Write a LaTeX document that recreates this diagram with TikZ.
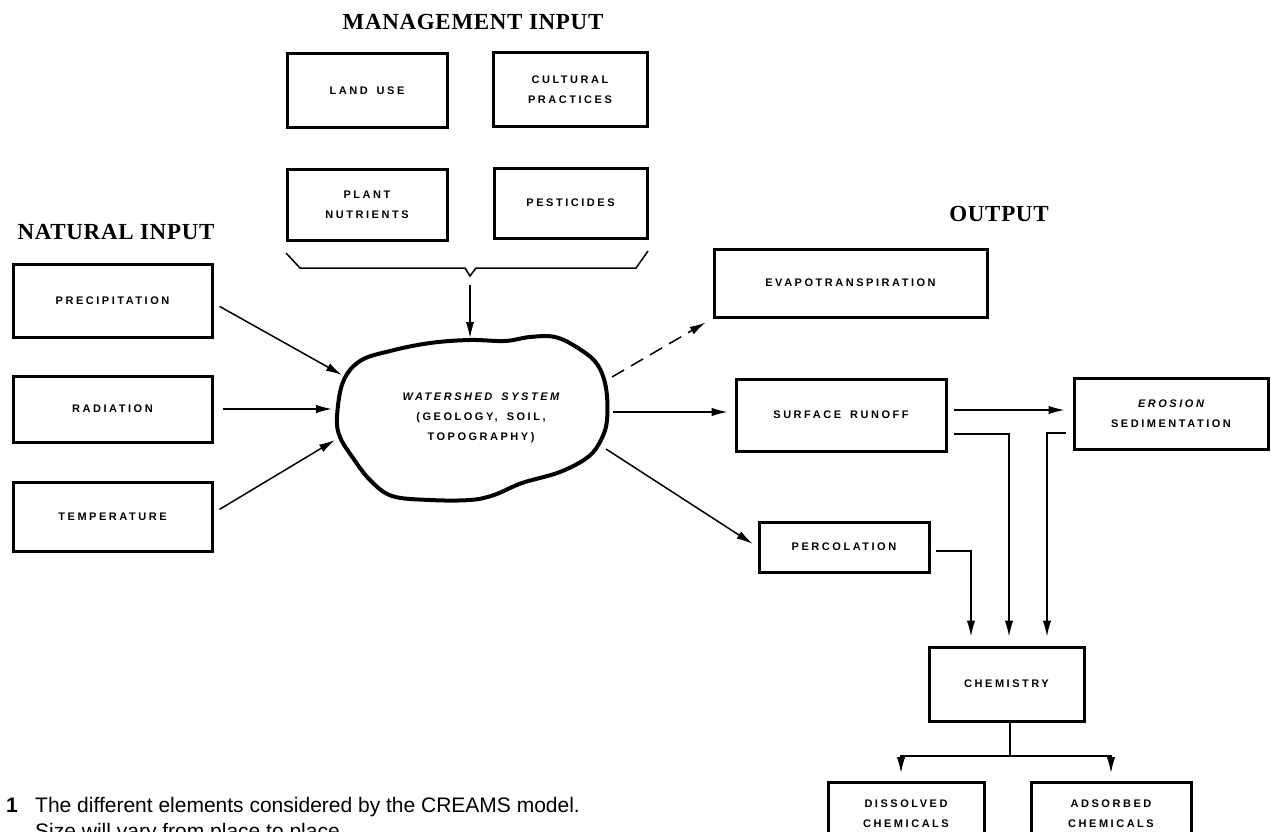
\documentclass[tikz,border=0pt]{standalone}
\usepackage{fontspec}
\usetikzlibrary{arrows.meta,calc}
\newfontfamily\boxfont[LetterSpace=23]{Liberation Sans}
\newfontfamily\titlefont[LetterSpace=3]{Liberation Serif}
\newfontfamily\capfont{Liberation Sans}
\newcommand{\wsp}{\hspace{9pt}}
\begin{document}
\begin{tikzpicture}[x=1pt,y=-1pt,
  box/.style={draw, line width=3pt, inner sep=0pt, align=center,
    font=\boxfont\bfseries\fontsize{11}{20}\selectfont},
  lbl/.style={inner sep=0pt, align=center, font=\boxfont\bfseries\fontsize{11}{20}\selectfont},
  ttl/.style={inner sep=0pt, font=\titlefont\bfseries\fontsize{23}{26}\selectfont},
  conn/.style={line width=1.5pt},
  arr/.style={conn, -{Latex[length=16pt,width=8.5pt]}},
  capt/.style={inner sep=0pt, anchor=base west, font=\capfont\fontsize{21}{26}\selectfont}]
\useasboundingbox (0,0) rectangle (1271,832);
\clip (0,0) rectangle (1271,832);
\fill[white] (0,0) rectangle (1271,832);

% titles
\node[ttl] (mgmt) at (473,22) {MANAGEMENT INPUT};
\node[ttl] (nat) at (116,232) {NATURAL INPUT};
\node[ttl] (out) at (999,214) {OUTPUT};

% management input
\node[box, minimum width=160pt, minimum height=74pt] (land) at (367,91) {LAND\wsp USE};
\node[box, minimum width=154pt, minimum height=74pt] (cult) at (570,90) {CULTURAL\\PRACTICES};
\node[box, minimum width=160pt, minimum height=71pt] (plant) at (367,204.5) {PLANT\\NUTRIENTS};
\node[box, minimum width=153pt, minimum height=70pt] (pest) at (570.5,203) {PESTICIDES};

% brace
\coordinate (bl) at (286,253);
\coordinate (br) at (648,251);
\coordinate (btip) at (470,276);
\draw[conn, line join=miter] (bl) -- (300,268) -- (465,268) -- (btip) -- (476,268) -- (636,268) -- (br);

% natural input
\node[box, minimum width=199pt, minimum height=73pt] (precip) at (112.5,300.5) {PRECIPITATION};
\node[box, minimum width=199pt, minimum height=66pt] (rad) at (112.5,409) {RADIATION};
\node[box, minimum width=199pt, minimum height=69pt] (temp) at (112.5,516.5) {TEMPERATURE};

% watershed blob
\draw[line width=4pt, line join=round]
  plot[smooth cycle, tension=0.6] coordinates {
   (337,417) (343,382) (360,361) (390,351) (430,343) (470,340) (505,341)
   (530,337) (555,337) (578,348) (597,364) (606,388) (607,420) (601,440)
   (588,457) (560,472) (522,483) (494,495) (470,500) (430,500) (392,496)
   (370,480) (353,458) (340,437)};
\node[lbl] (ws) at (481,418) {\itshape WATERSHED\wsp SYSTEM\\(GEOLOGY,\wsp SOIL,\\TOPOGRAPHY)};
\coordinate (bpre) at (342,375);
\coordinate (brad) at (332,409);
\coordinate (btem) at (335,440);
\coordinate (btop) at (470,338);
\coordinate (bdash) at (612,377);
\coordinate (bsr) at (613,412);
\coordinate (bperc) at (606,449);

% output boxes
\node[box, minimum width=273pt, minimum height=68pt] (evapo) at (850.5,283) {EVAPOTRANSPIRATION};
\node[box, minimum width=210pt, minimum height=72pt] (sr) at (841,415) {SURFACE\wsp RUNOFF};
\node[box, minimum width=194pt, minimum height=71pt] (eros) at (1171,413.5) {\itshape EROSION\\SEDIMENTATION};
\node[box, minimum width=170pt, minimum height=50pt] (perc) at (844,547) {PERCOLATION};
\node[box, minimum width=155pt, minimum height=74pt] (chem) at (1006.5,684) {CHEMISTRY};
\node[box, minimum width=156pt, minimum height=140pt, anchor=north] (diss) at (906,781) {};
\node[box, minimum width=160pt, minimum height=140pt, anchor=north] (adso) at (1111,781) {};
\node[lbl] (dissl) at (906,814) {DISSOLVED\\CHEMICALS};
\node[lbl] (adsol) at (1111,814) {ADSORBED\\CHEMICALS};

% input connectors
\draw[arr, shorten <=7pt] ([yshift=-2.5pt]precip.east) -- (bpre);
\draw[arr, shorten <=9pt] (rad.east) -- (brad);
\draw[arr, shorten <=7pt] ([yshift=3.5pt]temp.east) -- (btem);
\draw[arr, shorten <=9pt] (btip) -- (btop);

% output connectors
\draw[arr, dash pattern=on 14pt off 8pt, shorten >=8pt] (bdash) -- (evapo.south west);
\draw[arr, shorten >=7pt] (bsr) -- (bsr -| sr.west);
\draw[arr, shorten >=6pt] (bperc) -- (perc.west);
\draw[arr, shorten <=6pt, shorten >=8pt] ([yshift=5pt]sr.east) -- ([yshift=3.5pt]eros.west);
\draw[arr, shorten <=6pt, shorten >=9pt] ([yshift=-19pt]sr.east) -| ([xshift=2.5pt]chem.north);
\draw[arr, shorten <=7pt, shorten >=9pt] ([yshift=-19.5pt]eros.west) -| ([xshift=40.5pt]chem.north);
\draw[arr, shorten <=5pt, shorten >=9pt] ([yshift=-4pt]perc.east) -| ([xshift=-35.5pt]chem.north);

% chemistry split
\coordinate (split) at (1010,756);
\draw[conn] (split |- chem.south) -- (split);
\draw[arr, shorten >=8pt] (split) -| ([xshift=-5pt]diss.north);
\draw[arr, shorten >=8pt] (split) -| (adso.north);

% caption
\node[inner sep=0pt, anchor=base, font=\capfont\bfseries\fontsize{21}{26}\selectfont] (fignum) at (12,812) {1};
\node[capt] (cap1) at (35,812) {The different elements considered by the CREAMS model.};
\node[capt] (cap2) at (35,838) {Size will vary from place to place.};
\end{tikzpicture}
\end{document}
